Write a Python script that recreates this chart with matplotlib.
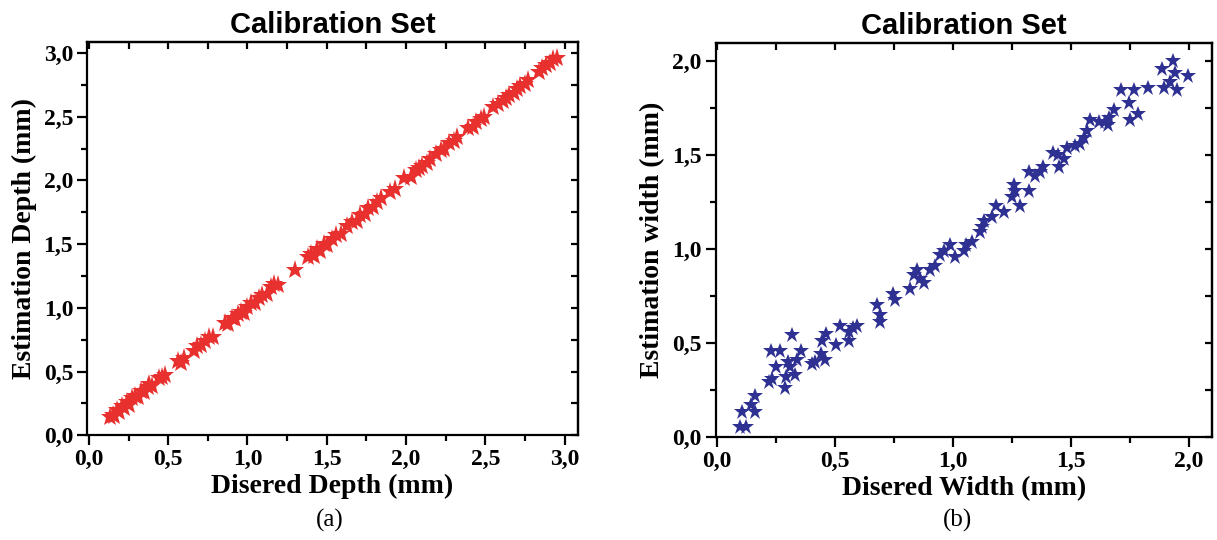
import matplotlib
matplotlib.use("Agg")
import matplotlib.pyplot as plt
from matplotlib.ticker import MultipleLocator, FuncFormatter

# calibration set, depth (a)
depth_x = [0.13, 0.15, 0.16, 0.18, 0.19, 0.21, 0.22, 0.24, 0.25, 0.27, 0.29, 0.31, 0.33, 0.35, 0.37, 0.38,
           0.40, 0.44, 0.46, 0.48, 0.56, 0.58, 0.60, 0.66, 0.68, 0.71, 0.73, 0.76, 0.78, 0.86, 0.88, 0.90,
           0.92, 0.94, 0.96, 0.98, 1.00, 1.02, 1.05, 1.07, 1.09, 1.12, 1.15, 1.17, 1.19, 1.30, 1.38, 1.40,
           1.42, 1.44, 1.46, 1.48, 1.50, 1.53, 1.56, 1.59, 1.63, 1.66, 1.69, 1.71, 1.74, 1.76, 1.79, 1.82,
           1.84, 1.90, 1.93, 1.99, 2.03, 2.06, 2.08, 2.10, 2.13, 2.15, 2.19, 2.22, 2.24, 2.27, 2.30, 2.32,
           2.39, 2.42, 2.44, 2.47, 2.49, 2.55, 2.58, 2.61, 2.63, 2.65, 2.68, 2.70, 2.72, 2.75, 2.77, 2.84,
           2.86, 2.88, 2.91, 2.93, 2.95]
depth_y = [0.14, 0.16, 0.15, 0.20, 0.18, 0.23, 0.21, 0.26, 0.24, 0.29, 0.31, 0.30, 0.35, 0.34, 0.38, 0.40,
           0.39, 0.45, 0.46, 0.47, 0.58, 0.57, 0.61, 0.66, 0.70, 0.71, 0.74, 0.77, 0.77, 0.88, 0.87, 0.92,
           0.91, 0.95, 0.97, 0.96, 1.01, 1.04, 1.04, 1.08, 1.10, 1.11, 1.16, 1.19, 1.18, 1.30, 1.40, 1.42,
           1.41, 1.46, 1.45, 1.50, 1.49, 1.54, 1.57, 1.58, 1.64, 1.67, 1.68, 1.73, 1.74, 1.78, 1.79, 1.83,
           1.86, 1.91, 1.93, 2.02, 2.03, 2.08, 2.10, 2.11, 2.14, 2.17, 2.21, 2.24, 2.25, 2.29, 2.31, 2.34,
           2.41, 2.42, 2.46, 2.48, 2.50, 2.58, 2.60, 2.62, 2.65, 2.67, 2.69, 2.72, 2.74, 2.76, 2.79, 2.85,
           2.88, 2.91, 2.92, 2.95, 2.96]

# calibration set, width (b)
width_x = [0.10, 0.126, 0.107, 0.143, 0.161, 0.164, 0.22, 0.234, 0.249, 0.23, 0.266, 0.291, 0.295, 0.30,
           0.319, 0.333, 0.34, 0.355, 0.312, 0.404, 0.418, 0.442, 0.46, 0.446, 0.463, 0.507, 0.524, 0.559,
           0.559, 0.578, 0.595, 0.68, 0.694, 0.694, 0.747, 0.757, 0.821, 0.835, 0.849, 0.863, 0.88, 0.905,
           0.927, 0.948, 0.962, 0.987, 1.011, 1.047, 1.058, 1.082, 1.117, 1.124, 1.131, 1.167, 1.185, 1.219,
           1.251, 1.258, 1.266, 1.287, 1.322, 1.322, 1.35, 1.371, 1.385, 1.425, 1.445, 1.449, 1.473, 1.484,
           1.52, 1.541, 1.555, 1.569, 1.583, 1.619, 1.647, 1.661, 1.682, 1.657, 1.713, 1.746, 1.77, 1.753,
           1.784, 1.83, 1.887, 1.894, 1.92, 1.936, 1.943, 1.95, 1.996]
width_y = [0.05, 0.05, 0.13, 0.17, 0.13, 0.22, 0.29, 0.31, 0.37, 0.46, 0.46, 0.26, 0.32, 0.40, 0.54,
           0.33, 0.41, 0.46, 0.37, 0.39, 0.40, 0.44, 0.41, 0.51, 0.55, 0.49, 0.59, 0.51, 0.56, 0.58,
           0.59, 0.70, 0.65, 0.61, 0.76, 0.73, 0.79, 0.86, 0.89, 0.84, 0.82, 0.89, 0.91, 0.97, 0.99,
           1.02, 0.96, 0.99, 1.02, 1.04, 1.09, 1.12, 1.15, 1.17, 1.23, 1.20, 1.28, 1.34, 1.31, 1.23,
           1.31, 1.41, 1.39, 1.41, 1.44, 1.51, 1.50, 1.44, 1.48, 1.54, 1.55, 1.56, 1.59, 1.63, 1.69,
           1.68, 1.68, 1.70, 1.74, 1.66, 1.85, 1.78, 1.85, 1.69, 1.72, 1.86, 1.96, 1.86, 1.89, 2.00,
           1.94, 1.85, 1.92]

tick_font = {"family": "Liberation Serif", "weight": "bold", "size": 17}
label_font = {"family": "Liberation Serif", "weight": "bold", "size": 20}
title_font = {"family": "Liberation Sans", "weight": "bold", "size": 21}

comma = FuncFormatter(lambda v, p: ("%.1f" % v).replace(".", ","))

fig = plt.figure(figsize=(12.17, 5.40), dpi=100)
ax1 = fig.add_axes([0.0715, 0.194, 0.4035, 0.729])
ax2 = fig.add_axes([0.588, 0.191, 0.408, 0.730])


def style(ax, xmax, ymax, xlo):
    ax.set_xlim(xlo, xmax)
    ax.set_ylim(0, ymax)
    for s in ax.spines.values():
        s.set_linewidth(1.6)
    for axis in (ax.xaxis, ax.yaxis):
        axis.set_major_locator(MultipleLocator(0.5))
        axis.set_minor_locator(MultipleLocator(0.25))
        axis.set_major_formatter(comma)
    ax.tick_params(which="major", direction="out", length=7, width=1.6, pad=3)
    ax.tick_params(which="minor", direction="out", length=4, width=1.6)
    for lab in ax.get_xticklabels() + ax.get_yticklabels():
        lab.set_fontproperties(matplotlib.font_manager.FontProperties(**tick_font))
    # mirrored ticks on top and right, pointing inside
    top = ax.secondary_xaxis("top")
    right = ax.secondary_yaxis("right")
    for sec, axis in ((top, top.xaxis), (right, right.yaxis)):
        axis.set_major_locator(MultipleLocator(0.25))
        sec.tick_params(which="major", direction="in", length=5, width=1.6,
                        labelbottom=False, labeltop=False, labelleft=False, labelright=False)
        sec.spines[:].set_linewidth(1.6)


ax1.plot(depth_x, depth_y, "*", color="#e8302e", markersize=14, markeredgewidth=0)
style(ax1, 3.085, 3.09, -0.012)
ax1.set_xlabel("Disered Depth (mm)", fontdict=label_font, labelpad=3)
ax1.set_ylabel("Estimation Depth (mm)", fontdict=label_font, labelpad=5)
ax1.set_title("Calibration Set", fontdict=title_font, pad=6)

ax2.plot(width_x, width_y, "*", color="#2e3192", markersize=12, markeredgewidth=0)
style(ax2, 2.10, 2.10, -0.005)
ax2.set_xlabel("Disered Width (mm)", fontdict=label_font, labelpad=3)
ax2.set_ylabel("Estimation width (mm)", fontdict=label_font, labelpad=5)
ax2.set_title("Calibration Set", fontdict=title_font, pad=6)

fig.text(330 / 1217, 1 - 520 / 540, "(a)", family="Liberation Serif", size=18, ha="center", va="center")
fig.text(958 / 1217, 1 - 520 / 540, "(b)", family="Liberation Serif", size=18, ha="center", va="center")

plt.savefig("out.png", dpi=100)
plt.close()
